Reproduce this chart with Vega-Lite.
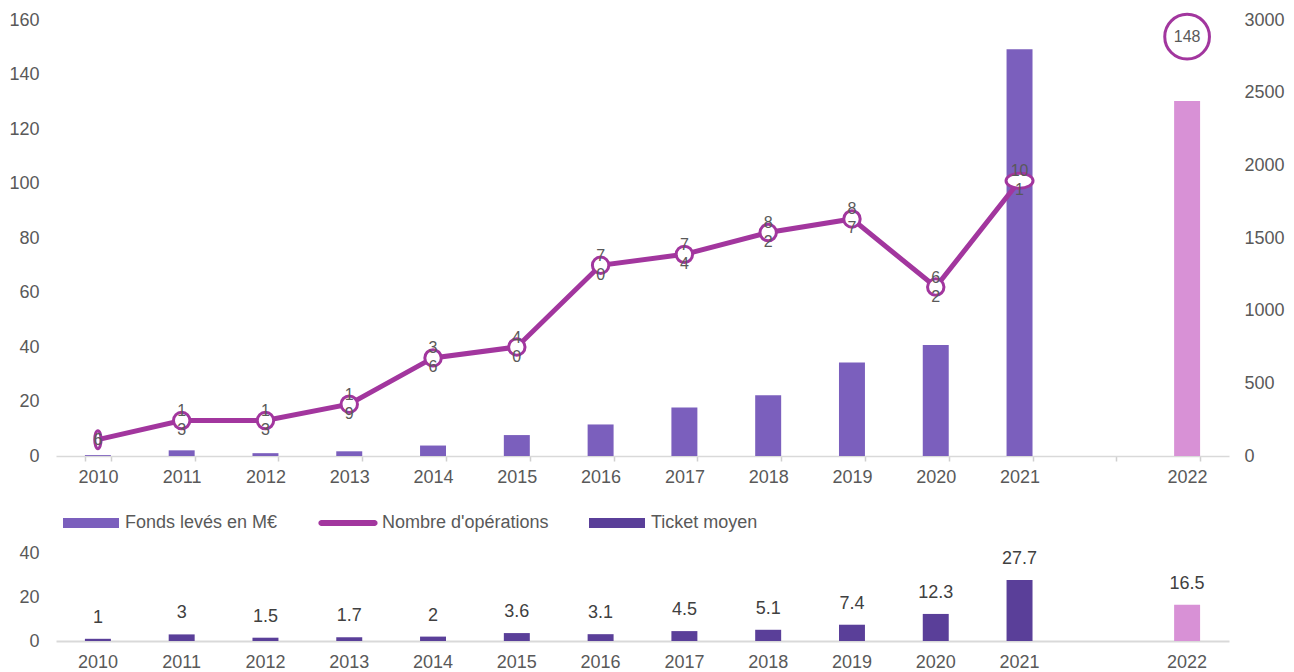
{
  "$schema": "https://vega.github.io/schema/vega-lite/v6.json",
  "padding": {"left": 8, "top": 8, "right": 5, "bottom": 5},
  "config": {
    "font": "Liberation Sans",
    "view": {"stroke": null},
    "axis": {"labelFont": "Liberation Sans", "labelColor": "#595959", "labelFontSize": 18, "title": null, "grid": false}
  },
  "data": {
    "values": [
      {"year": "2010", "ops": 6, "fonds": 6, "ticket": 1, "lab": "6"},
      {"year": "2011", "ops": 13, "fonds": 39, "ticket": 3, "lab": "1\n3"},
      {"year": "2012", "ops": 13, "fonds": 19.5, "ticket": 1.5, "lab": "1\n3"},
      {"year": "2013", "ops": 19, "fonds": 32.3, "ticket": 1.7, "lab": "1\n9"},
      {"year": "2014", "ops": 36, "fonds": 72, "ticket": 2, "lab": "3\n6"},
      {"year": "2015", "ops": 40, "fonds": 144, "ticket": 3.6, "lab": "4\n0"},
      {"year": "2016", "ops": 70, "fonds": 217, "ticket": 3.1, "lab": "7\n0"},
      {"year": "2017", "ops": 74, "fonds": 333, "ticket": 4.5, "lab": "7\n4"},
      {"year": "2018", "ops": 82, "fonds": 418, "ticket": 5.1, "lab": "8\n2"},
      {"year": "2019", "ops": 87, "fonds": 644, "ticket": 7.4, "lab": "8\n7"},
      {"year": "2020", "ops": 62, "fonds": 763, "ticket": 12.3, "lab": "6\n2"},
      {"year": "2021", "ops": 101, "fonds": 2798, "ticket": 27.7, "lab": "10\n1"},
      {"year": "2022", "ops": 148, "fonds": 2442, "ticket": 16.5, "lab": "148"}
    ]
  },
  "spacing": 58,
  "vconcat": [
    {
      "width": 1173,
      "height": 436,
      "encoding": {
        "x": {
          "field": "year", "type": "nominal",
          "scale": {"domain": ["2010","2011","2012","2013","2014","2015","2016","2017","2018","2019","2020","2021"," ","2022"], "paddingInner": 0.69, "paddingOuter": 0.345},
          "axis": {"labelAngle": 0, "tickBand": "extent", "ticks": true, "tickSize": 5, "tickColor": "#CFCFCF", "tickWidth": 1.5, "domainColor": "#D9D9D9", "domainWidth": 1.5, "labelPadding": 7}
        }
      },
      "layer": [
        {
          "layer": [
            {
              "transform": [{"filter": "datum.year != '2022'"}],
              "mark": {"type": "bar"},
              "encoding": {
                "y": {"field": "fonds", "type": "quantitative", "scale": {"domain": [0, 3000]},
                  "axis": {"orient": "right", "values": [0,500,1000,1500,2000,2500,3000], "format": "d", "ticks": false, "domain": false, "labelPadding": 15}},
                "color": {"datum": "Fonds levés en M€", "type": "nominal",
                  "scale": {"domain": ["Fonds levés en M€", "Nombre d'opérations", "Ticket moyen"], "range": ["#7B5FBD", "#A2369E", "#5A3F99"]},
                  "legend": {
                    "orient": "none", "legendX": 7, "legendY": 475, "direction": "horizontal", "title": null,
                    "symbolSize": 3136, "labelFontSize": 18, "labelColor": "#595959", "labelFont": "Liberation Sans",
                    "labelOffset": 6, "columnPadding": 40, "labelLimit": 400,
                    "encode": {"symbols": {"update": {
                      "shape": {"signal": "datum.value === \"Nombre d'opérations\" ? 'M-0.95,-0.107H0.95A0.107,0.107,0,0,1,0.95,0.107H-0.95A0.107,0.107,0,0,1,-0.95,-0.107Z' : 'M-1,-0.18H1V0.18H-1Z'"},
                      "fill": {"scale": "color", "field": "value"},
                      "stroke": {"value": "transparent"},
                      "strokeWidth": {"value": 0},
                      "opacity": {"value": 1}
                    }}}
                  }}
              }
            },
            {
              "transform": [{"filter": "datum.year == '2022'"}],
              "mark": {"type": "bar", "color": "#D891D6"},
              "encoding": {
                "y": {"field": "fonds", "type": "quantitative"}
              }
            }
          ]
        },
        {
          "layer": [
            {
              "transform": [{"filter": "datum.year != '2022'"}],
              "mark": {"type": "line", "strokeWidth": 5},
              "encoding": {
                "y": {"field": "ops", "type": "quantitative", "scale": {"domain": [0, 160]},
                  "axis": {"orient": "left", "values": [0,20,40,60,80,100,120,140,160], "ticks": false, "domain": false, "labelPadding": 17}},
                "color": {"datum": "Nombre d'opérations", "type": "nominal"}
              }
            },
            {
              "transform": [{"filter": "datum.year != '2022' && datum.year != '2010' && datum.year != '2021'"}],
              "mark": {"type": "point", "shape": "circle", "filled": true, "fill": "white", "stroke": "#A2369E", "strokeWidth": 3, "size": 270, "opacity": 1},
              "encoding": {"y": {"field": "ops", "type": "quantitative"}}
            },
            {
              "transform": [{"filter": "datum.year == '2021'"}],
              "mark": {"type": "point", "shape": "M-1,0A1,0.55,0,1,0,1,0A1,0.55,0,1,0,-1,0Z", "filled": true, "fill": "white", "stroke": "#A2369E", "strokeWidth": 3, "size": 729, "opacity": 1},
              "encoding": {"y": {"field": "ops", "type": "quantitative"}}
            },
            {
              "transform": [{"filter": "datum.year == '2010'"}],
              "mark": {"type": "point", "shape": "M-0.35,0A0.35,1,0,1,0,0.35,0A0.35,1,0,1,0,-0.35,0Z", "filled": true, "fill": "white", "stroke": "#A2369E", "strokeWidth": 3, "size": 324, "opacity": 1},
              "encoding": {"y": {"field": "ops", "type": "quantitative"}}
            },
            {
              "transform": [{"filter": "datum.year != '2022' && datum.year != '2010'"}],
              "mark": {"type": "text", "fontSize": 16, "color": "#595959", "baseline": "middle", "lineBreak": "\n", "lineHeight": 19, "dy": -9.5},
              "encoding": {"y": {"field": "ops", "type": "quantitative"}, "text": {"field": "lab"}}
            },
            {
              "transform": [{"filter": "datum.year == '2010'"}],
              "mark": {"type": "text", "fontSize": 16, "color": "#595959", "baseline": "middle"},
              "encoding": {"y": {"field": "ops", "type": "quantitative"}, "text": {"field": "lab"}}
            },
            {
              "transform": [{"filter": "datum.year == '2022'"}],
              "mark": {"type": "point", "shape": "circle", "filled": true, "fill": "white", "stroke": "#A2369E", "strokeWidth": 3, "size": 2000, "opacity": 1, "yOffset": -16},
              "encoding": {"y": {"field": "ops", "type": "quantitative"}}
            },
            {
              "transform": [{"filter": "datum.year == '2022'"}],
              "mark": {"type": "text", "fontSize": 16, "color": "#595959", "baseline": "middle", "yOffset": -16},
              "encoding": {"y": {"field": "ops", "type": "quantitative"}, "text": {"field": "lab"}}
            }
          ]
        }
      ],
      "resolve": {"scale": {"y": "independent"}}
    },
    {
      "width": 1173,
      "height": 88,
      "encoding": {
        "x": {
          "field": "year", "type": "nominal",
          "scale": {"domain": ["2010","2011","2012","2013","2014","2015","2016","2017","2018","2019","2020","2021"," ","2022"], "paddingInner": 0.69, "paddingOuter": 0.345},
          "axis": {"labelAngle": 0, "ticks": false, "domainColor": "#D9D9D9", "domainWidth": 2, "labelPadding": 12}
        },
        "y": {"field": "ticket", "type": "quantitative", "scale": {"domain": [0, 40]},
          "axis": {"values": [0, 20, 40], "ticks": false, "domain": false, "labelPadding": 17}}
      },
      "layer": [
        {
          "transform": [{"filter": "datum.year != '2022'"}],
          "mark": {"type": "bar"},
          "encoding": {"color": {"datum": "Ticket moyen", "type": "nominal"}}
        },
        {
          "transform": [{"filter": "datum.year == '2022'"}],
          "mark": {"type": "bar", "color": "#D891D6"}
        },
        {
          "mark": {"type": "text", "fontSize": 18, "color": "#404040", "baseline": "alphabetic", "dy": -16},
          "encoding": {"text": {"field": "ticket", "type": "quantitative"}}
        }
      ]
    }
  ]
}
